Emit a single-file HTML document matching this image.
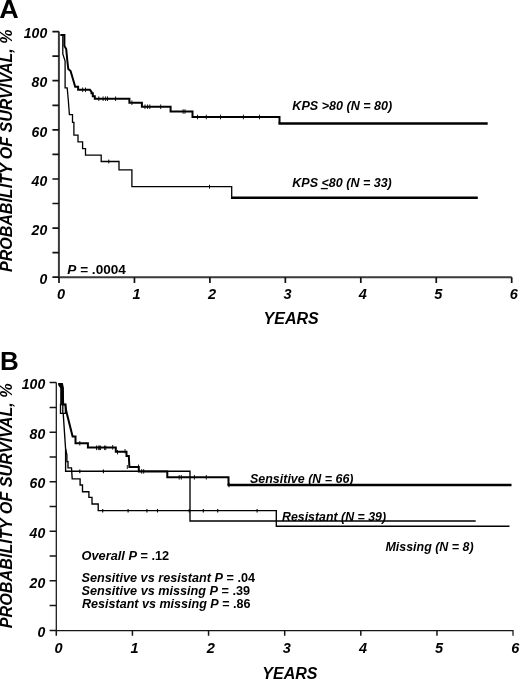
<!DOCTYPE html>
<html><head><meta charset="utf-8">
<style>
html,body{margin:0;padding:0;background:#fff;width:520px;height:679px;overflow:hidden}
svg{display:block;will-change:transform}
text{font-family:"Liberation Sans",sans-serif;font-weight:bold;fill:#000}
.it{font-style:italic}
.ax{stroke:#222;stroke-width:1.4;fill:none}
.thk{stroke:#000;stroke-width:2;fill:none;stroke-linejoin:miter;stroke-linecap:butt}
.thn{stroke:#000;stroke-width:1.3;fill:none;stroke-linejoin:miter;stroke-linecap:butt}
.cz{stroke:#000;stroke-width:1;fill:none}
</style></head>
<body>
<svg width="520" height="679" viewBox="0 0 520 679">
<!-- ============ PANEL A ============ -->
<text x="-0.7" y="17.5" font-size="26" textLength="19.5" lengthAdjust="spacingAndGlyphs">A</text>
<text class="it" font-size="16" transform="translate(12.3,272) rotate(-90)" textLength="242.4" lengthAdjust="spacingAndGlyphs">PROBABILITY OF SURVIVAL, %</text>
<!-- y tick labels -->
<g class="it" font-size="14" text-anchor="end">
<text x="47.2" y="38.35">100</text>
<text x="47.2" y="87.45">80</text>
<text x="47.2" y="136.55">60</text>
<text x="47.2" y="185.75">40</text>
<text x="47.2" y="234.85">20</text>
<text x="47.2" y="283.95">0</text>
</g>
<!-- axes -->
<path class="ax" style="stroke:#3a3a3a;stroke-width:2" d="M58.9,31.6 V277.2 H511.7"/>
<path class="ax" style="stroke:#111;stroke-width:1.7" d="M511.7,277.2 V283 M52.4,31.6 H58.9 M52.4,56.2 H58.9 M52.4,80.7 H58.9 M52.4,105.3 H58.9 M52.4,129.8 H58.9 M52.4,154.4 H58.9 M52.4,179.0 H58.9 M52.4,203.5 H58.9 M52.4,228.1 H58.9 M52.4,252.6 H58.9 M52.4,277.2 H58.9 M59.00,277.2 V283 M134.45,277.2 V283 M209.90,277.2 V283 M285.35,277.2 V283 M360.80,277.2 V283 M436.25,277.2 V283"/>
<!-- x tick labels -->
<g class="it" font-size="14.5" text-anchor="middle">
<text x="61.1" y="298.5">0</text>
<text x="136.5" y="298.5">1</text>
<text x="212.0" y="298.5">2</text>
<text x="287.5" y="298.5">3</text>
<text x="362.9" y="298.5">4</text>
<text x="438.4" y="298.5">5</text>
<text x="513.8" y="298.5">6</text>
</g>
<text class="it" x="263.6" y="324.4" font-size="16">YEARS</text>
<!-- curves A -->
<path class="thk" d="M60.5,35 H64.4 V46 L66.2,49 L67.2,59.5 L68.3,69 L70.6,71 L75.2,86.7 H78.1 V89.8 H89.9 L91.5,91.8 V93.3 H92.8 V96.2 H94.8 V98.7 H129.4 V102.75 H141.9 V106.75 H170.6 V111.5 H192.5 V117 H279.5 V123.5"/>
<path class="thk" style="stroke-width:2.6" d="M278.5,123.5 H487.7"/>
<path class="cz" style="stroke-width:0.9" d="M82.7,87.50v4.6 M85.5,87.50v4.6 M98.8,96.40v4.6 M103.1,96.40v4.6 M105.6,96.40v4.6 M107.5,96.40v4.6 M115.6,96.40v4.6 M131.9,100.45v4.6 M145,104.45v4.6 M147.6,104.45v4.6 M149.8,104.45v4.6 M160.7,104.45v4.6 M183.1,109.20v4.6 M185,109.20v4.6 M197.5,114.70v4.6 M206.3,114.70v4.6 M220.5,114.70v4.6 M243.4,114.70v4.6 M259.5,114.70v4.6"/>
<path class="thn" d="M60.5,35 H62.8 V54 L65.1,61 V87.9 H67.2 L68.3,100 L69.4,114.6 H72.5 V122.3 H73.9 V135.2 H78 V141.9 H82.6 V148.6 H85.5 V155.2 H101.2 V161.5 H119 V169.8 H131.9 V186.7 H231.7 V197.7"/>
<path class="thk" style="stroke-width:2.4" d="M231,197.7 H477.8"/>
<path class="cz" style="stroke-width:1" d="M108.8,159.6v3.8 M209.5,184.8v3.8"/>
<text x="292.3" y="109.9" font-size="13.5" class="it" textLength="100" lengthAdjust="spacingAndGlyphs">KPS &gt;80 (N = 80)</text>
<text x="292.3" y="187.3" font-size="13.5" class="it" textLength="99.5" lengthAdjust="spacingAndGlyphs">KPS &lt;80 (N = 33)</text>
<path class="cz" style="stroke-width:1.3" d="M320.8,188.6 H327.8"/>
<text x="67.3" y="273.8" font-size="13.5" textLength="58.6" lengthAdjust="spacingAndGlyphs"><tspan class="it">P</tspan> = .0004</text>

<!-- ============ PANEL B ============ -->
<text x="0" y="369.6" font-size="26">B</text>
<text class="it" font-size="16" transform="translate(12.3,628.2) rotate(-90)" textLength="244.9" lengthAdjust="spacingAndGlyphs">PROBABILITY OF SURVIVAL, %</text>
<g class="it" font-size="14" text-anchor="end">
<text x="45.2" y="389.35">100</text>
<text x="45.2" y="438.95">80</text>
<text x="45.2" y="488.45">60</text>
<text x="45.2" y="538.05">40</text>
<text x="45.2" y="587.55">20</text>
<text x="45.2" y="637.15">0</text>
</g>
<path class="ax" style="stroke:#151515;stroke-width:1.25" d="M56.3,382.6 V630.5 H513 V635.7"/>
<path class="ax" style="stroke:#151515;stroke-width:1.5" d="M49.6,382.6 H56.3 M49.6,407.4 H56.3 M49.6,432.2 H56.3 M49.6,456.9 H56.3 M49.6,481.7 H56.3 M49.6,506.5 H56.3 M49.6,531.3 H56.3 M49.6,556.1 H56.3 M49.6,580.8 H56.3 M49.6,605.6 H56.3 M49.6,630.4 H56.3 M56.30,630.5 V635.7 M132.43,630.5 V635.7 M208.56,630.5 V635.7 M284.69,630.5 V635.7 M360.82,630.5 V635.7 M436.95,630.5 V635.7"/>
<g class="it" font-size="14.5" text-anchor="middle">
<text x="58.5" y="652.6">0</text>
<text x="134.6" y="652.6">1</text>
<text x="210.8" y="652.6">2</text>
<text x="286.9" y="652.6">3</text>
<text x="363.0" y="652.6">4</text>
<text x="439.1" y="652.6">5</text>
<text x="515.3" y="652.6">6</text>
</g>
<text class="it" x="262.3" y="678.6" font-size="16">YEARS</text>
<!-- curves B -->
<path d="M58.4,383 H62 L62.6,386 L63.8,388 V404.5 H60.2 V388 L58.4,385.5 Z" fill="#000"/>
<path class="thk" d="M58.4,384 H62 L62.6,386.5 L63.2,404.5 H65.5 L66.1,410.5 L72.6,436.6 H75.5 V443.3 H87.9 V447.6 H115.8 V451.7 H126.5 V456 H128.8 L129.4,466.9 H138.8 V471.5 H167.3 V477.3 H228.5 V485"/>
<path class="thk" style="stroke-width:2.3" d="M227.5,485 H511.5"/>
<path class="cz" style="stroke-width:0.9" d="M79.8,441v4.6 M96.5,445.5v4.6 M98.3,445.5v4.6 M99.4,445.5v4.6 M100.6,445.5v4.6 M104.6,445.5v4.6 M105.8,445.5v4.6 M112.7,445v4.6 M117.5,450v4.4 M125,449v4.4 M127.3,465v4 M138.5,464.5v4.6 M141.7,469.1v4.6 M143.7,469.1v4.6 M179.2,475v4.6 M181.3,475v4.6 M194.4,475v4.6 M206.3,475v4.6 M229,482.7v4.6"/>
<path class="thn" style="stroke-width:1.35" d="M60.5,404.5 H65.4 V413.4 H60.5 Z M62.8,404.5 V413.4"/>
<path class="thn" style="stroke-width:1.35" d="M63.2,413.4 L65.6,449 V471.2 H190 V521 H475.7"/>
<path class="cz" style="stroke-width:1.1" d="M79.8,469.6v3.6 M103.4,469.6v3.6"/>
<path class="thn" style="stroke-width:1.35" d="M65.6,449 L66.9,455 V461.6 H68 V467.8 H71.5 L72.2,478.9 H80.1 V485 H82.5 V491.7 H88.9 V497.4 H92 V504 H98.2 V510.6 H276.3 V526.2 H509.5"/>
<path class="cz" style="stroke-width:1.1" d="M102.7,509v3.4 M128.1,509v3.4 M146.9,509v3.4 M157.5,509v3.4 M189.2,509v3.4 M203.3,509v3.4 M217.7,509v3.4 M257.1,509v3.4"/>
<text x="250" y="482.9" font-size="13.5" class="it" textLength="103.5" lengthAdjust="spacingAndGlyphs">Sensitive (N = 66)</text>
<text x="282" y="521.2" font-size="13.5" class="it" textLength="104" lengthAdjust="spacingAndGlyphs">Resistant (N = 39)</text>
<text x="385.4" y="551.3" font-size="13.5" class="it" textLength="88.2" lengthAdjust="spacingAndGlyphs">Missing (N = 8)</text>
<text x="81.6" y="559.6" font-size="13.5" textLength="87.6" lengthAdjust="spacingAndGlyphs"><tspan class="it">Overall P</tspan> = .12</text>
<text x="81.5" y="581.5" font-size="13.5" textLength="173.5" lengthAdjust="spacingAndGlyphs"><tspan class="it">Sensitive vs resistant P</tspan> = .04</text>
<text x="81.5" y="594.7" font-size="13.5" textLength="168.6" lengthAdjust="spacingAndGlyphs"><tspan class="it">Sensitive vs missing P</tspan> = .39</text>
<text x="82" y="608.3" font-size="13.5" textLength="168.4" lengthAdjust="spacingAndGlyphs"><tspan class="it">Resistant vs missing P</tspan> = .86</text>
</svg>
</body></html>
